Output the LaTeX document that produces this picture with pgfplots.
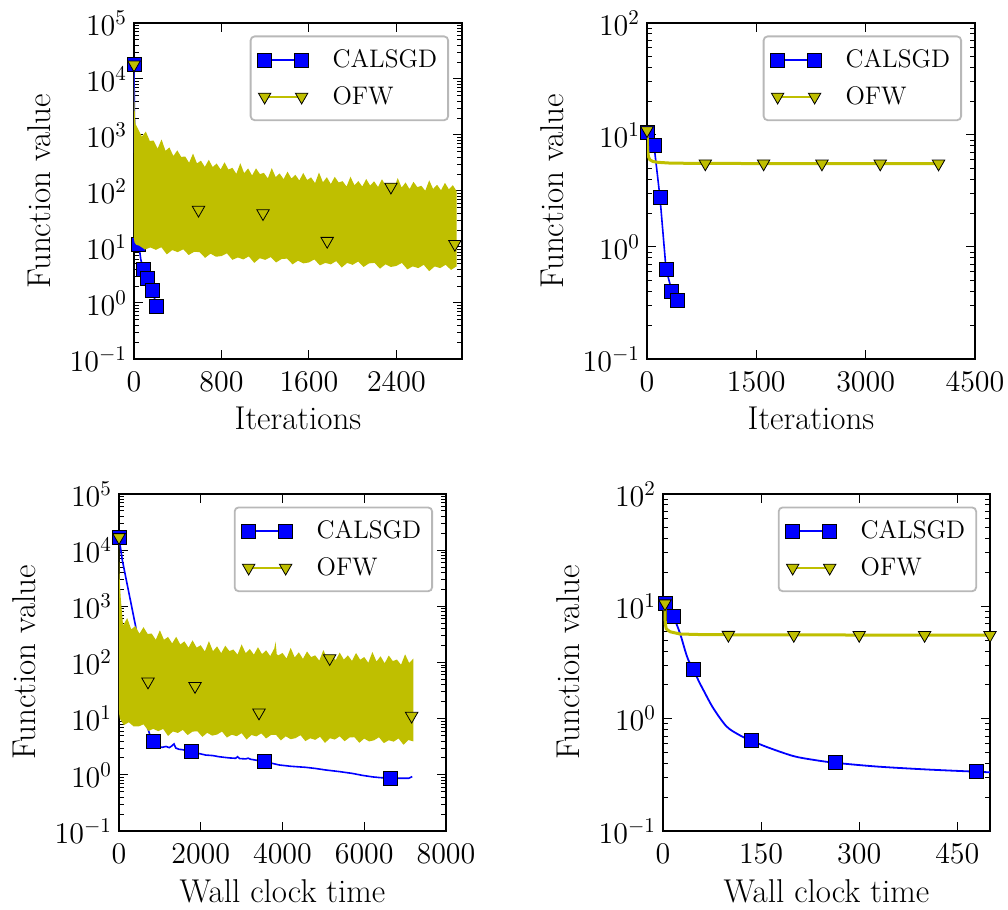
\RequirePackage{fix-cm}
\documentclass[border=0pt]{standalone}
\usepackage{pgfplots}
\pgfplotsset{compat=1.18}
\definecolor{ofw}{rgb}{0.75,0.75,0}
\definecolor{cal}{rgb}{0,0,1}
\pgfkeys{/pgf/number format/1000 sep={}}
\pgfplotsset{every axis/.append style={
    scale only axis,
    clip mode=individual,
    tick align=inside,
    major tick length=4.5pt,
    minor tick length=2.5pt,
    tick style={line width=0.5pt, black},
    axis line style={line width=1pt},
    tick label style={font=\fontsize{15}{18}\selectfont},
    xticklabel style={yshift=-3pt},
    scaled x ticks=false,
    label style={font=\fontsize{16.5}{19}\selectfont},
    xlabel style={at={(axis description cs:0.5,-0.2113)}, anchor=base},
    ylabel style={at={(axis description cs:-0.2896,0.5)}, anchor=center},
    legend style={at={(axis description cs:0.9604,0.9628)}, anchor=north east,
      draw=black!28, line width=0.9pt, rounded corners=2pt, fill=white,
      font=\fontsize{12.7}{15}\selectfont,
      inner xsep=3.5pt, inner ysep=4.5pt,
      nodes={inner sep=2pt, text depth=0.15em},
      row sep=3.9pt,
      /tikz/every odd column/.append style={column sep=10pt}},
    legend cell align=left,
  }}
\pgfplotsset{legend image code/.code={\draw[#1, sharp corners] plot coordinates {(0pt,0pt) (18.5pt,0pt)};}}
\begin{document}
\begin{tikzpicture}
\useasboundingbox (0,0) rectangle (504pt,455pt);

% ---------------- Panel 1: iterations, problem A ----------------
\begin{axis}[ymode=log, at={(67pt,275.5pt)}, anchor=south west, width=164pt, height=168pt,
  xmin=0, xmax=3000, xtick={0,800,1600,2400},
  ymin=0.1, ymax=1e5, ytick={0.1,1,10,100,1000,10000,100000},
  minor ytick={0.2,0.3,0.4,0.5,0.6,0.7,0.8,0.9,2,3,4,5,6,7,8,9,20,30,40,50,60,70,80,90,200,300,400,500,600,700,800,900,2000,3000,4000,5000,6000,7000,8000,9000,20000,30000,40000,50000,60000,70000,80000,90000},
  xlabel={Iterations}, ylabel={Function value}]
\addplot[cal, line width=0.8pt, forget plot] coordinates {(0,18000)(4,2000)(10,150)(18,30)(30,14)(44,11)(62,6)(85,4.05)(126,2.72)(167,1.71)(208,0.86)};
\addplot[only marks, mark=square*, mark size=3.5pt, mark options={solid, fill=cal, draw=black, line width=0.4pt}, forget plot] coordinates {(0,18000)(44,11)(85,4.05)(126,2.72)(167,1.71)(208,0.86)};
\addplot[fill=ofw, draw=none, forget plot] coordinates {
(0,18000)(3,5000)(8,2200)(15,1550)(36,1300)(72,933)(108,1153)(144,786)(180,793)(216,571)(252,832)(288,522)(324,599)(360,421)(396,531)(432,406)(468,413)(504,320)(540,467)(576,311)(612,348)(648,270)(684,360)(720,267)(756,310)(792,242)(828,325)(864,241)(900,260)(936,202)(972,313)(1008,208)(1044,253)(1080,189)(1116,254)(1152,200)(1188,211)(1224,168)(1260,256)(1296,177)(1332,206)(1368,163)(1404,221)(1440,167)(1476,195)(1512,154)(1548,210)(1584,157)(1620,175)(1656,138)(1692,214)(1728,143)(1764,176)(1800,133)(1836,179)(1872,142)(1908,150)(1944,120)(1980,180)(2016,127)(2052,150)(2088,120)(2124,164)(2160,125)(2196,149)(2232,118)(2268,162)(2304,123)(2340,138)(2376,109)(2412,170)(2448,115)(2484,142)(2520,108)(2556,146)(2592,117)(2628,124)(2664,101)(2700,155)(2736,109)(2772,129)(2808,103)(2844,140)(2880,107)(2916,127)(2950,100)
(2950,4.5)(2900,3.9)(2850,4.8)(2800,4.2)(2750,4.5)(2700,3.7)(2650,4.8)(2600,4.2)(2550,4.5)(2500,4.0)(2450,5.2)(2400,4.6)(2350,4.4)(2300,4.9)(2250,4.1)(2200,5.2)(2150,5.1)(2100,4.4)(2050,5.5)(2000,4.8)(1950,5.2)(1900,4.3)(1850,5.6)(1800,4.9)(1750,5.2)(1700,4.7)(1650,6.0)(1600,5.3)(1550,5.1)(1500,5.7)(1450,4.9)(1400,6.2)(1350,6.1)(1300,5.3)(1250,6.6)(1200,5.9)(1150,6.3)(1100,5.2)(1050,6.8)(1000,6.0)(950,6.5)(900,5.9)(850,7.7)(800,6.9)(750,6.7)(700,7.6)(650,6.4)(600,8.1)(550,8.2)(500,7.2)(450,9.1)(400,8.1)(350,8.8)(300,7.4)(250,9.9)(200,8.9)(150,9.8)(100,9.0)(50,10.5)(20,11)(5,12)(0,14)
} -- cycle;
\addplot[only marks, mark=triangle*, mark size=3.6pt, mark options={solid, rotate=180, fill=ofw, draw=black, line width=0.4pt}, forget plot] coordinates {(0,18000)(590,46)(1180,40)(1767,12.8)(2350,119)(2935,11.3)};
\addlegendimage{cal, line width=0.6pt, mark=square*, mark size=3.5pt, mark options={solid, fill=cal, draw=black, line width=0.4pt}}
\addlegendentry{CALSGD}
\addlegendimage{ofw, line width=0.8pt, mark=triangle*, mark size=3.6pt, mark options={solid, rotate=180, fill=ofw, draw=black, line width=0.4pt}}
\addlegendentry{OFW}
\end{axis}

% ---------------- Panel 2: iterations, problem B ----------------
\begin{axis}[ymode=log, at={(323.5pt,275.5pt)}, anchor=south west, width=164pt, height=168pt,
  xmin=0, xmax=4500, xtick={0,1500,3000,4500},
  ymin=0.1, ymax=100, ytick={0.1,1,10,100},
  minor ytick={0.2,0.3,0.4,0.5,0.6,0.7,0.8,0.9,2,3,4,5,6,7,8,9,20,30,40,50,60,70,80,90},
  xlabel={Iterations}, ylabel={Function value}]
\addplot[cal, line width=0.8pt, forget plot] coordinates {(0,10.5)(96,8.1)(178,2.78)(261,0.637)(340,0.405)(421,0.336)};
\addplot[only marks, mark=square*, mark size=3.5pt, mark options={solid, fill=cal, draw=black, line width=0.4pt}, forget plot] coordinates {(0,10.5)(96,8.1)(178,2.78)(261,0.637)(340,0.405)(421,0.336)};
\addplot[ofw, line width=1.5pt, forget plot] coordinates {(0,11)(8,7.5)(20,6.4)(40,6.0)(80,5.8)(150,5.7)(300,5.62)(600,5.58)(1500,5.56)(4050,5.55)};
\addplot[only marks, mark=triangle*, mark size=3.6pt, mark options={solid, rotate=180, fill=ofw, draw=black, line width=0.4pt}, forget plot] coordinates {(0,11)(800,5.56)(1600,5.56)(2400,5.55)(3200,5.55)(4000,5.55)};
\addlegendimage{cal, line width=0.6pt, mark=square*, mark size=3.5pt, mark options={solid, fill=cal, draw=black, line width=0.4pt}}
\addlegendentry{CALSGD}
\addlegendimage{ofw, line width=0.8pt, mark=triangle*, mark size=3.6pt, mark options={solid, rotate=180, fill=ofw, draw=black, line width=0.4pt}}
\addlegendentry{OFW}
\end{axis}

% ---------------- Panel 3: wall clock, problem A ----------------
\begin{axis}[ymode=log, at={(59.5pt,39.5pt)}, anchor=south west, width=163.5pt, height=168.5pt,
  xmin=0, xmax=8000, xtick={0,2000,4000,6000,8000},
  ymin=0.1, ymax=1e5, ytick={0.1,1,10,100,1000,10000,100000},
  minor ytick={0.2,0.3,0.4,0.5,0.6,0.7,0.8,0.9,2,3,4,5,6,7,8,9,20,30,40,50,60,70,80,90,200,300,400,500,600,700,800,900,2000,3000,4000,5000,6000,7000,8000,9000,20000,30000,40000,50000,60000,70000,80000,90000},
  xlabel={Wall clock time}, ylabel={Function value}]
\addplot[cal, line width=0.8pt, forget plot] coordinates {(0,17000)(80,6700)(410,430)(560,40)(620,11)(693,7.2)(760,5.0)(839,3.89)(900,3.35)(980,3.15)(1060,3.09)(1150,3.2)(1230,3.05)(1300,3.3)(1345,3.55)(1390,3.0)(1468,2.85)(1560,2.8)(1650,2.7)(1778,2.58)(1900,2.45)(2120,2.25)(2300,2.2)(2447,2.1)(2700,2.0)(2855,1.97)(2900,2.1)(2950,1.95)(3100,1.92)(3160,1.98)(3222,1.89)(3400,1.8)(3564,1.72)(3750,1.6)(3914,1.50)(4200,1.42)(4567,1.36)(4800,1.3)(5056,1.22)(5400,1.14)(5708,1.06)(5950,0.98)(6197,0.92)(6400,0.89)(6647,0.87)(6900,0.87)(7094,0.87)(7175,0.93)};
\addplot[only marks, mark=square*, mark size=3.5pt, mark options={solid, fill=cal, draw=black, line width=0.4pt}, forget plot] coordinates {(0,17000)(620,11)(839,3.89)(1778,2.58)(3564,1.72)(6647,0.87)};
\addplot[fill=ofw, draw=none, forget plot] coordinates {
(0,17000)(8,4500)(20,2800)(40,1500)(65,900)(100,454)(200,618)(300,389)(400,446)(500,325)(600,425)(700,323)(800,327)(900,254)(1000,375)(1100,254)(1200,285)(1300,219)(1400,287)(1500,209)(1600,238)(1700,184)(1800,248)(1900,184)(2000,203)(2100,157)(2200,240)(2300,159)(2400,194)(2500,147)(2600,199)(2700,160)(2800,170)(2900,138)(3000,210)(3100,147)(3200,174)(3300,138)(3400,187)(3500,141)(3600,165)(3700,130)(3800,178)(3830,235)(3860,140)(3900,134)(4000,148)(4100,118)(4200,182)(4300,123)(4400,152)(4500,116)(4600,157)(4700,125)(4800,134)(4900,108)(5000,166)(5100,117)(5200,137)(5300,110)(5400,150)(5500,113)(5600,134)(5700,107)(5800,148)(5900,112)(6000,125)(6100,99)(6200,154)(6300,104)(6400,129)(6500,97)(6600,133)(6700,106)(6800,113)(6900,91)(7000,140)(7100,98)(7200,117)
(7200,3.95)(7080,4.16)(6960,3.43)(6840,4.44)(6720,3.9)(6600,4.13)(6480,3.67)(6360,4.66)(6240,4.12)(6120,3.93)(6000,4.42)(5880,3.72)(5760,4.68)(5640,4.62)(5520,3.97)(5400,4.85)(5280,4.25)(5160,4.48)(5040,3.70)(4920,4.76)(4800,4.2)(4680,4.47)(4560,3.99)(4440,5.08)(4320,4.50)(4200,4.31)(4080,4.85)(3960,4.1)(3840,5.16)(3720,5.12)(3600,4.45)(3480,5.46)(3360,4.83)(3240,5.12)(3120,4.26)(3000,5.53)(2880,4.87)(2760,5.18)(2640,4.62)(2520,5.89)(2400,5.22)(2280,4.99)(2160,5.6)(2040,4.74)(1920,5.95)(1800,5.89)(1680,5.11)(1560,6.3)(1440,5.57)(1320,5.92)(1200,4.93)(1080,6.57)(960,5.99)(840,6.58)(720,6.05)(600,7.93)(480,7.26)(360,7.26)(240,8.62)(120,7.67)(60,9.0)(20,10)(5,12)(0,14)
} -- cycle;
\addplot[only marks, mark=triangle*, mark size=3.6pt, mark options={solid, rotate=180, fill=ofw, draw=black, line width=0.4pt}, forget plot] coordinates {(0,17000)(710,45.6)(1860,38)(3425,12.8)(5155,119)(7160,11.2)};
\addlegendimage{cal, line width=0.6pt, mark=square*, mark size=3.5pt, mark options={solid, fill=cal, draw=black, line width=0.4pt}}
\addlegendentry{CALSGD}
\addlegendimage{ofw, line width=0.8pt, mark=triangle*, mark size=3.6pt, mark options={solid, rotate=180, fill=ofw, draw=black, line width=0.4pt}}
\addlegendentry{OFW}
\end{axis}

% ---------------- Panel 4: wall clock, problem B ----------------
\begin{axis}[ymode=log, at={(331.5pt,39.5pt)}, anchor=south west, width=163.5pt, height=168.5pt,
  xmin=0, xmax=500, xtick={0,150,300,450},
  ymin=0.1, ymax=100, ytick={0.1,1,10,100},
  minor ytick={0.2,0.3,0.4,0.5,0.6,0.7,0.8,0.9,2,3,4,5,6,7,8,9,20,30,40,50,60,70,80,90},
  xlabel={Wall clock time}, ylabel={Function value}]
\addplot[cal, line width=0.9pt, smooth, forget plot] coordinates {(3,10.6)(15.8,8.09)(26,5.75)(33.6,4.08)(38.7,3.33)(46.4,2.75)(54,2.2)(61.7,1.80)(77,1.236)(97.4,0.85)(117.7,0.71)(134.6,0.64)(158.5,0.56)(199,0.465)(230,0.43)(263,0.405)(326.7,0.375)(403,0.353)(479.6,0.337)(500,0.333)};
\addplot[only marks, mark=square*, mark size=3.5pt, mark options={solid, fill=cal, draw=black, line width=0.4pt}, forget plot] coordinates {(3,10.6)(15.8,8.09)(46.4,2.75)(134.6,0.64)(263,0.405)(479.6,0.337)};
\addplot[ofw, line width=1.5pt, forget plot] coordinates {(3,10.6)(3.5,7)(5,6.3)(10.7,5.94)(26,5.67)(60,5.6)(150,5.56)(500,5.55)};
\addplot[only marks, mark=triangle*, mark size=3.6pt, mark options={solid, rotate=180, fill=ofw, draw=black, line width=0.4pt}, forget plot] coordinates {(3,10.6)(100,5.56)(200,5.55)(300,5.55)(400,5.55)(500,5.55)};
\addlegendimage{cal, line width=0.6pt, mark=square*, mark size=3.5pt, mark options={solid, fill=cal, draw=black, line width=0.4pt}}
\addlegendentry{CALSGD}
\addlegendimage{ofw, line width=0.8pt, mark=triangle*, mark size=3.6pt, mark options={solid, rotate=180, fill=ofw, draw=black, line width=0.4pt}}
\addlegendentry{OFW}
\end{axis}
\end{tikzpicture}
\end{document}
